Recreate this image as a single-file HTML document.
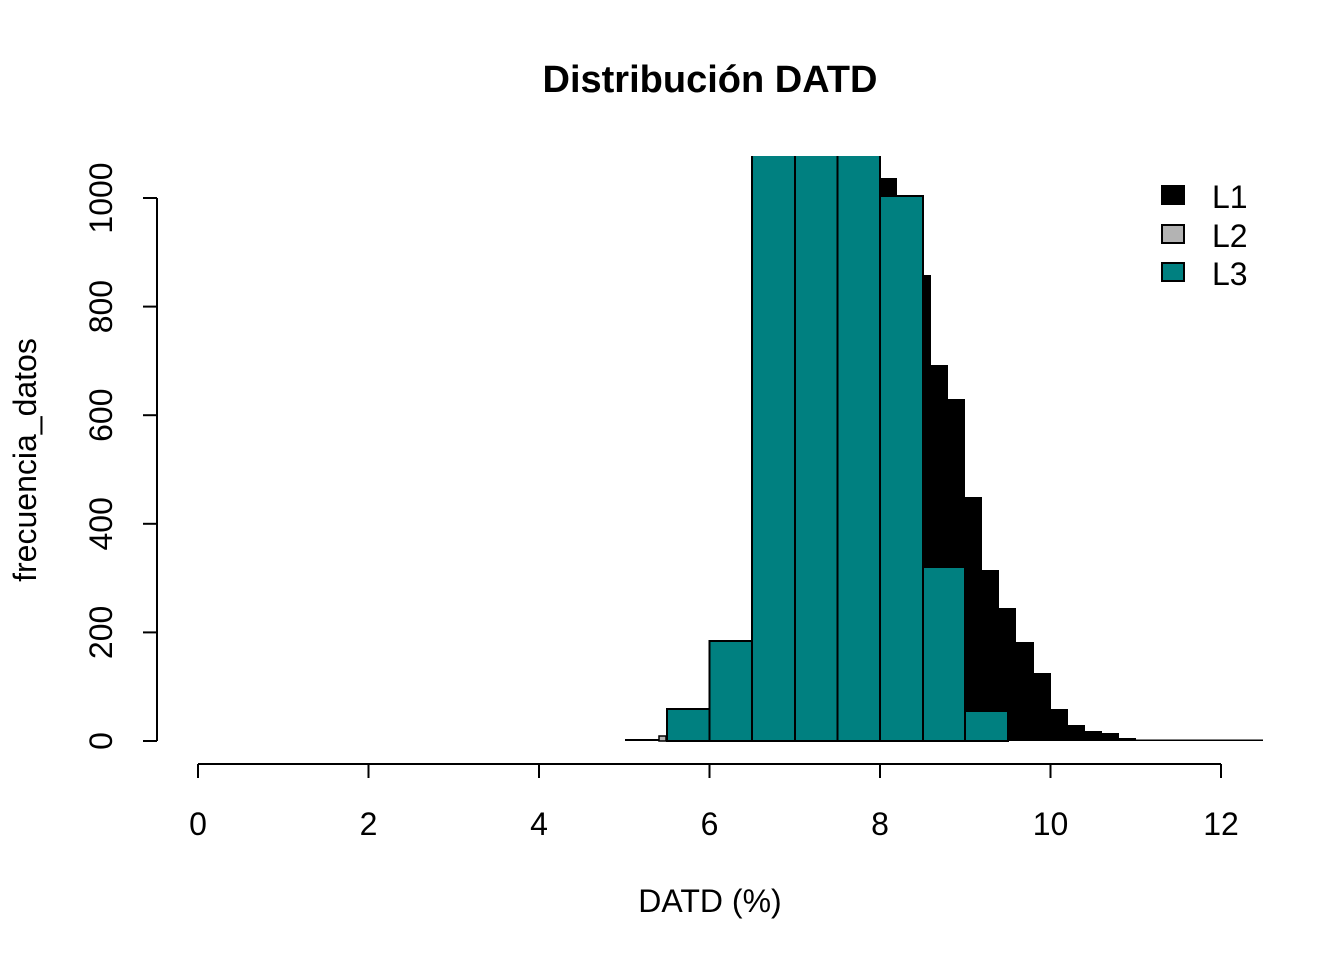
<!DOCTYPE html>
<html><head><style>body{margin:0;background:#fff}svg{display:block}text{font-family:"Liberation Sans",Arial,sans-serif;fill:#000}</style></head>
<body>
<svg width="1344" height="960" viewBox="0 0 1344 960" xmlns="http://www.w3.org/2000/svg">
<text x="710" y="92" font-size="38" font-weight="bold" text-anchor="middle">Distribución DATD</text>
<defs><clipPath id="c"><rect x="157" y="156" width="1110" height="600"/></clipPath></defs>
<g clip-path="url(#c)">
<g fill="#000">
<rect x="625" y="739" width="35" height="2"/>
<rect x="880" y="178" width="17" height="563"/>
<rect x="897" y="205" width="17" height="536"/>
<rect x="914" y="275" width="17" height="466"/>
<rect x="931" y="365" width="17" height="376"/>
<rect x="948" y="399" width="17" height="342"/>
<rect x="965" y="497" width="17" height="244"/>
<rect x="982" y="570" width="17" height="171"/>
<rect x="999" y="608" width="17" height="133"/>
<rect x="1016" y="642" width="18" height="99"/>
<rect x="1034" y="673" width="17" height="68"/>
<rect x="1051" y="709" width="17" height="32"/>
<rect x="1068" y="725" width="17" height="16"/>
<rect x="1085" y="731" width="17" height="10"/>
<rect x="1102" y="733" width="17" height="8"/>
<rect x="1119" y="738" width="17" height="3"/>
<rect x="1136" y="739.5" width="127" height="1.5"/>
</g>
<rect x="659" y="736" width="7" height="5" fill="#b3b3b3" stroke="#000" stroke-width="1.5"/>
<g fill="#008080" stroke="#000" stroke-width="2">
<rect x="667" y="709" width="42.5" height="32"/>
<rect x="709.5" y="641" width="42.5" height="100"/>
<rect x="752" y="140" width="43" height="601"/>
<rect x="795" y="140" width="42.5" height="601"/>
<rect x="837.5" y="140" width="42.5" height="601"/>
<rect x="880" y="196" width="43" height="545"/>
<rect x="923" y="567" width="42" height="174"/>
<rect x="965" y="711" width="43" height="30"/>
</g>
</g>
<g stroke="#000" stroke-width="2" fill="none">
<line x1="157" y1="198" x2="157" y2="741"/>
<line x1="143" y1="741" x2="157" y2="741"/>
<line x1="143" y1="632.4" x2="157" y2="632.4"/>
<line x1="143" y1="523.8" x2="157" y2="523.8"/>
<line x1="143" y1="415.2" x2="157" y2="415.2"/>
<line x1="143" y1="306.6" x2="157" y2="306.6"/>
<line x1="143" y1="198" x2="157" y2="198"/>
<line x1="198" y1="764" x2="1221" y2="764"/>
<line x1="198" y1="764" x2="198" y2="778"/>
<line x1="368.5" y1="764" x2="368.5" y2="778"/>
<line x1="539" y1="764" x2="539" y2="778"/>
<line x1="709.5" y1="764" x2="709.5" y2="778"/>
<line x1="880" y1="764" x2="880" y2="778"/>
<line x1="1050.5" y1="764" x2="1050.5" y2="778"/>
<line x1="1221" y1="764" x2="1221" y2="778"/>
</g>
<g font-size="32" text-anchor="middle">
<text transform="translate(112,741) rotate(-90)">0</text>
<text transform="translate(112,632.4) rotate(-90)">200</text>
<text transform="translate(112,523.8) rotate(-90)">400</text>
<text transform="translate(112,415.2) rotate(-90)">600</text>
<text transform="translate(112,306.6) rotate(-90)">800</text>
<text transform="translate(112,198) rotate(-90)">1000</text>
<text x="198" y="835">0</text>
<text x="368.5" y="835">2</text>
<text x="539" y="835">4</text>
<text x="709.5" y="835">6</text>
<text x="880" y="835">8</text>
<text x="1050.5" y="835">10</text>
<text x="1221" y="835">12</text>
<text x="710" y="912">DATD (%)</text>
<text transform="translate(36,460) rotate(-90)">frecuencia_datos</text>
</g>
<g stroke="#000" stroke-width="2">
<rect x="1162" y="186" width="22" height="18" fill="#000"/>
<rect x="1162" y="225" width="22" height="18" fill="#b3b3b3"/>
<rect x="1162" y="263" width="22" height="18" fill="#008080"/>
</g>
<g font-size="32">
<text x="1212" y="208">L1</text>
<text x="1212" y="247">L2</text>
<text x="1212" y="285">L3</text>
</g>
</svg>
</body></html>
